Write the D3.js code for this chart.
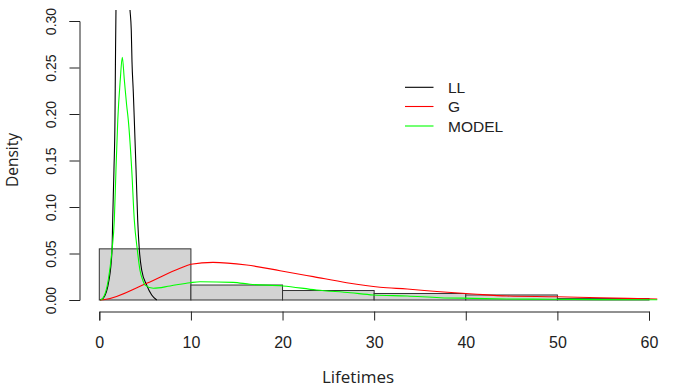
<!DOCTYPE html>
<html>
<head>
<meta charset="utf-8">
<script src="https://cdn.jsdelivr.net/npm/d3@7"></script>
<style>
  body { margin: 0; background: #fff; }
  svg { display: block; }
</style>
</head>
<body>
<div id="chart"></div>
<script>
// histogram (bin edges + densities)
const binEdges = [0, 10, 20, 30, 40, 50, 60, 70]
const binDensity = [0.0550, 0.0161, 0.0102, 0.0070, 0.0054, 0.0015, 0]

// fitted curves
const llX = [0.08, 0.44, 1.06, 1.39, 1.46, 1.60, 1.71, 1.76, 1.82, 2.3, 2.7, 3.35, 3.49, 3.57, 3.71, 3.82, 4.01, 4.19, 4.37, 4.63, 5.17, 5.72, 6.27]
const llY = [0, 0.002, 0.0215, 0.054, 0.086, 0.140, 0.194, 0.253, 0.312, 0.42, 0.42, 0.312, 0.290, 0.256, 0.224, 0.194, 0.140, 0.086, 0.054, 0.032, 0.016, 0.0054, 0]

const gX = [0.09, 0.62, 5.17, 8.81, 10.0, 12.41, 16.09, 19.73, 23.36, 27.0, 30.64, 33.6, 37.2, 40.8, 44.5, 50.0, 54.7, 57.7, 60.9]
const gY = [0, 0.0005, 0.018, 0.0341, 0.0384, 0.0405, 0.0376, 0.0315, 0.0251, 0.0186, 0.0137, 0.0118, 0.0089, 0.0065, 0.0043, 0.0035, 0.0024, 0.0018, 0.0011]

const modelX = [0.13, 0.4, 0.98, 1.39, 1.64, 1.82, 2.02, 2.29, 2.51, 2.73, 2.98, 3.16, 3.54, 3.82, 4.15, 4.44, 4.74, 4.99, 5.9, 7.72, 9.9, 11.0, 14.6, 16.45, 20.05, 23.7, 27.4, 29.9, 33.6, 37.2, 40.8, 44.5, 49.5, 54.7, 60.9]
const modelY = [0, 0.002, 0.0215, 0.054, 0.086, 0.140, 0.194, 0.237, 0.261, 0.237, 0.210, 0.194, 0.140, 0.086, 0.054, 0.032, 0.0215, 0.016, 0.0126, 0.0151, 0.0186, 0.0197, 0.019, 0.0169, 0.0151, 0.0108, 0.0078, 0.0054, 0.0043, 0.0025, 0.0018, 0.0011, 0.0008, 0.0004, 0.0002]

const xTicks = [0, 10, 20, 30, 40, 50, 60]
const yTicks = [0, 0.05, 0.10, 0.15, 0.20, 0.25, 0.30]

const legendNames = ["LL", "G", "MODEL"]
const legendColors = ["#000000", "#ff0000", "#00ff00"]

const width = 682
const height = 390

const svg = d3.select("#chart").append("svg")
  .attr("width", width)
  .attr("height", height)

const xScale = d3.scaleLinear().domain([0, 60]).range([99.3, 649])
const yScale = d3.scaleLinear().domain([0, 0.30]).range([300, 21])

// plot region clip
svg.append("defs").append("clipPath").attr("id", "plotClip")
  .append("rect")
  .attr("x", 79).attr("y", 10)
  .attr("width", 601).attr("height", 301)

const plot = svg.append("g").attr("clip-path", "url(#plotClip)")

// histogram bars
plot.selectAll("rect.bar")
  .data(binDensity)
  .enter()
  .append("rect")
  .attr("class", "bar")
  .attr("x", (d, i) => xScale(binEdges[i]))
  .attr("y", (d) => yScale(d))
  .attr("width", (d, i) => xScale(binEdges[i + 1]) - xScale(binEdges[i]))
  .attr("height", (d) => yScale(0) - yScale(d))
  .attr("fill", "#d3d3d3")
  .attr("stroke", "#333")
  .attr("stroke-width", 1)

const line = d3.line()
  .x((d) => xScale(d[0]))
  .y((d) => yScale(d[1]))
  .curve(d3.curveMonotoneX)

const curves = [
  { xs: llX, ys: llY, color: legendColors[0] },
  { xs: gX, ys: gY, color: legendColors[1] },
  { xs: modelX, ys: modelY, color: legendColors[2] },
]

curves.forEach((c) => {
  plot.append("path")
    .datum(c.xs.map((x, i) => [x, c.ys[i]]))
    .attr("d", line)
    .attr("fill", "none")
    .attr("stroke", c.color)
    .attr("stroke-width", 1.1)
})

// axes
const xAxis = d3.axisBottom(xScale).tickValues(xTicks).tickSize(9).tickPadding(16).tickFormat(d3.format("d"))
const yAxis = d3.axisLeft(yScale).tickValues(yTicks).tickSize(10).tickPadding(0).tickFormat(d3.format(".2f"))

const gx = svg.append("g")
  .attr("transform", "translate(0, 311.5)")
  .call(xAxis)
gx.select(".domain").attr("stroke", "#222")
gx.selectAll(".tick line").attr("stroke", "#222")
gx.selectAll("text")
  .attr("font-family", "Liberation Sans, Arial, sans-serif")
  .attr("font-size", 16)
  .attr("fill", "#222")

const gy = svg.append("g")
  .attr("transform", "translate(79.5, 0)")
  .call(yAxis)
gy.select(".domain").attr("stroke", "#222")
gy.selectAll(".tick line").attr("stroke", "#222")
gy.selectAll("text")
  .attr("font-family", "Liberation Sans, Arial, sans-serif")
  .attr("font-size", 14)
  .attr("fill", "#222")
  .attr("text-anchor", "middle")
  .attr("dy", null)
  .attr("x", null)
  .attr("transform", "translate(-29, 0) rotate(-90)")
  .attr("dominant-baseline", "central")

// axis titles
svg.append("text")
  .attr("x", 358)
  .attr("y", 383)
  .attr("text-anchor", "middle")
  .attr("font-family", "Open Sans, Noto Sans, sans-serif")
  .attr("font-size", 17)
  .attr("fill", "#222")
  .text("Lifetimes")

svg.append("text")
  .attr("transform", "translate(18, 160) rotate(-90)")
  .attr("text-anchor", "middle")
  .attr("font-family", "Open Sans, Noto Sans, sans-serif")
  .attr("font-size", 15.5)
  .attr("fill", "#222")
  .text("Density")

// legend
const legend = svg.append("g")
const legendY = [87.3, 106.5, 126]
legend.selectAll("line")
  .data(legendNames)
  .enter()
  .append("line")
  .attr("x1", 405).attr("x2", 433.5)
  .attr("y1", (d, i) => legendY[i]).attr("y2", (d, i) => legendY[i])
  .attr("stroke", (d, i) => legendColors[i])
  .attr("stroke-width", 1.1)
legend.selectAll("text")
  .data(legendNames)
  .enter()
  .append("text")
  .attr("x", 448)
  .attr("y", (d, i) => legendY[i])
  .attr("dy", "0.36em")
  .attr("font-family", "Liberation Sans, Arial, sans-serif")
  .attr("font-size", 15.5)
  .attr("fill", "#222")
  .text((d) => d)
</script>
</body>
</html>
